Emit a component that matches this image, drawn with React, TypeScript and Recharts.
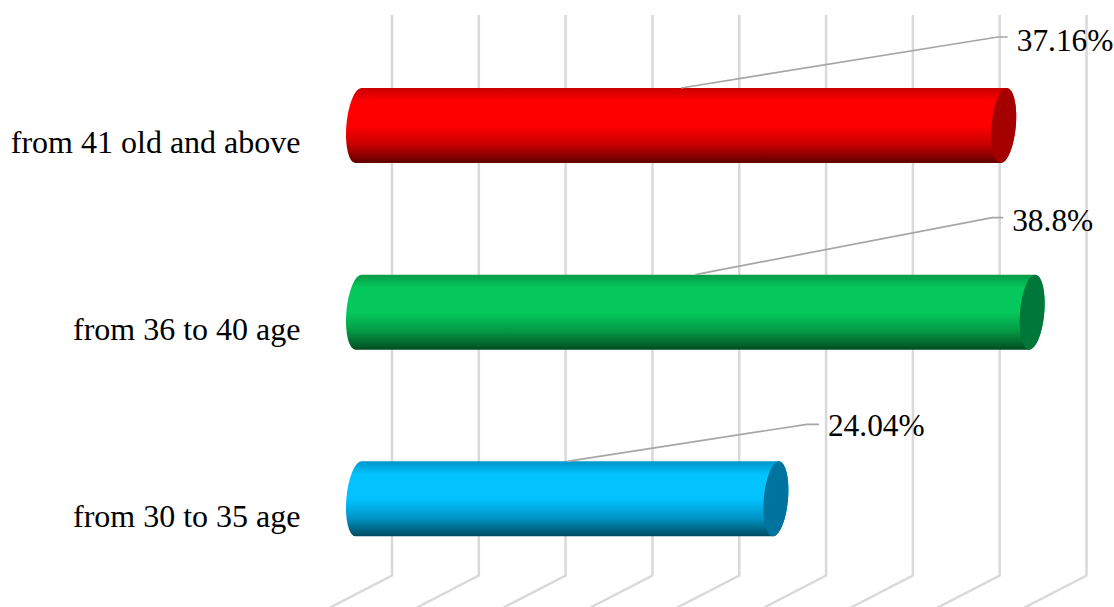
import React from "react";
import { BarChart, Bar, XAxis, YAxis, CartesianGrid } from "recharts";

const categories = ["from 41 old and above", "from 36 to 40 age", "from 30 to 35 age"];
const values = [37.16, 38.8, 24.04];
const valueLabels = ["37.16%", "38.8%", "24.04%"];
const baseColors = ["#ff0000", "#05c95c", "#02c3ff"];
const midDark = ["#c80000", "#049a45", "#0096c8"];
const edgeDark = ["#600000", "#014d22", "#004a62"];
const capColors = ["#a50000", "#00773a", "#00749f"];
const tickValues = [0, 5, 10, 15, 20, 25, 30, 35, 40];

const calloutOffsets = [
  { dx: -6, dy: -51, run: 10, textDy: 14 },
  { dx: -40, dy: -57, run: 11, textDy: 13 },
  { dx: 31, dy: -37, run: 12, textDy: 12 },
];

const data = categories.map((name, i) => ({ name, value: values[i], label: valueLabels[i], idx: i }));

const FONT = '"Liberation Serif", "Times New Roman", serif';

const depthLine = (props: any) => {
  const { x1, y1, y2, key } = props;
  return (
    <polyline
      key={key}
      points={`${x1 - 28.5},${y2 + 15.5} ${x1 + 33.5},${y2 - 16.5} ${x1 + 33.5},${y1 - 17}`}
      fill="none"
      stroke="#d9d9d9"
      strokeWidth={2.5}
    />
  );
};

const EmptyTick = () => <g />;

const CategoryTick = (props: any) => {
  const { y, payload } = props;
  return (
    <text x={300.5} y={y + 28} textAnchor="end" fontFamily={FONT} fontSize={32} fill="#000">
      {payload.value}
    </text>
  );
};

const Cylinder = (props: any) => {
  const { x, y, width, height, idx, label } = props;
  const right = x + width;
  const skew = 3;
  const top = y;
  const bottom = y + height;
  const ry = height / 2 + 0.1;
  const rx = 12.1;
  const arc = (ex: number, ey: number) => `A${rx},${ry} 5.1 0 1 ${ex},${ey}`;
  const body =
    `M${x + skew},${top} L${right + skew},${top} ` +
    arc(right - skew, bottom) +
    ` L${x - skew},${bottom} ` +
    arc(x + skew, top) +
    " Z";
  const cap = `M${right + skew},${top} ` + arc(right - skew, bottom) + " " + arc(right + skew, top) + " Z";
  const off = calloutOffsets[idx];
  const sx = x + width / 2;
  const ex = right + off.dx;
  const ey = top + off.dy;
  return (
    <g>
      <defs>
        <linearGradient id={`cyl${idx}`} x1="0" y1="0" x2="0" y2="1">
          <stop offset="0" stopColor={midDark[idx]} />
          <stop offset="0.18" stopColor={baseColors[idx]} />
          <stop offset="0.5" stopColor={baseColors[idx]} />
          <stop offset="0.75" stopColor={midDark[idx]} />
          <stop offset="1" stopColor={edgeDark[idx]} />
        </linearGradient>
      </defs>
      <path d={body} fill={`url(#cyl${idx})`} />
      <path d={cap} fill={capColors[idx]} />
      <polyline
        points={`${sx},${top} ${ex},${ey} ${ex + off.run},${ey}`}
        fill="none"
        stroke="#a6a6a6"
        strokeWidth={1.7}
      />
      <text x={ex + off.run + 9} y={ey + off.textDy} fontFamily={FONT} fontSize={31.4} fill="#000">
        {label}
      </text>
    </g>
  );
};

export default function App() {
  return (
    <div style={{ position: "absolute", left: 0, top: 0, background: "#fff" }}>
      <BarChart
        width={1114}
        height={607}
        data={data}
        layout="vertical"
        margin={{ top: 32, right: 61, bottom: 0, left: 0 }}
        barSize={75}
      >
        <CartesianGrid horizontal={false} vertical={depthLine} syncWithTicks />
        <XAxis
          type="number"
          dataKey="value"
          domain={[0, 40]}
          ticks={tickValues}
          axisLine={false}
          tickLine={false}
          tick={<EmptyTick />}
          height={15}
          interval={0}
        />
        <YAxis
          type="category"
          dataKey="name"
          width={358.5}
          axisLine={false}
          tickLine={false}
          tickMargin={0}
          tickSize={0}
          tick={<CategoryTick />}
          interval={0}
        />
        <Bar dataKey="value" isAnimationActive={false} shape={<Cylinder />} />
      </BarChart>
    </div>
  );
}
